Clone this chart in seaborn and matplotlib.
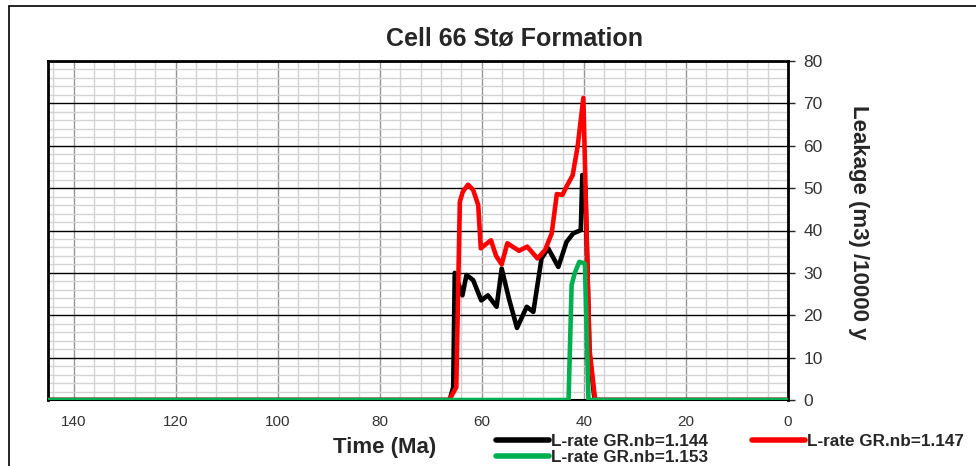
import matplotlib
matplotlib.use("Agg")
import matplotlib.pyplot as plt
from matplotlib.lines import Line2D
from matplotlib.ticker import MultipleLocator
import numpy as np
import pandas as pd
import seaborn as sns

# Leakage rate histories (time in Ma, leakage in m3 per 10000 y)
time_144 = [145, 66.3, 65.6, 65.3, 63.8, 63.0, 61.7, 60.1, 58.8, 57.1, 56.1,
            54.7, 53.1, 51.2, 49.9, 48.3, 47.0, 45.0, 43.4, 42.1, 40.6, 40.3,
            39.7, 38.9, 37.9, 0]
rate_144 = [0, 0, 3, 30, 24.7, 29.5, 28.3, 23.5, 24.7, 22, 31,
            24, 17, 22, 20.8, 33.4, 35.8, 31.4, 37.3, 39.3, 40.1, 53.1,
            50, 11, 0, 0]

time_147 = [145, 66.4, 65.0, 64.3, 63.7, 62.7, 61.7, 60.7, 60.2, 58.2, 57.2,
            56.1, 55.0, 52.7, 51.1, 49.1, 47.6, 46.3, 45.3, 44.2, 43.3, 42.2,
            41.2, 40.1, 38.9, 37.8, 0]
rate_147 = [0, 0, 3, 46.8, 49.2, 50.8, 49.6, 46, 35.8, 37.7, 34,
            32, 37, 35.2, 36.2, 33.4, 35.4, 39.3, 48.6, 48.4, 50.6, 53,
            60, 71.3, 12, 0, 0]

time_153 = [145, 43.0, 42.4, 41.8, 40.9, 39.8, 39.1, 0]
rate_153 = [0, 0, 27.1, 29.9, 32.6, 32.2, 0, 0]

series_labels = ["L-rate GR.nb=1.144", "L-rate GR.nb=1.147", "L-rate GR.nb=1.153"]
series_colors = ["#000000", "#FF0000", "#00B050"]

title_text = "Cell 66 Stø Formation"
x_label = "Time (Ma)"
y_label = "Leakage (m3) /10000 y"

sns.set_style("white")
plt.rcParams["font.family"] = ["Liberation Sans", "DejaVu Sans"]

W, H = 976, 466
fig = plt.figure(figsize=(W / 100, H / 100), dpi=100)
ax = fig.add_axes([48 / W, 1 - 400 / H, (788 - 48) / W, (400 - 61) / H])

# grid: light minor lines, darker major lines
ax.set_xlim(145, 0)
ax.set_ylim(0, 80)
ax.xaxis.set_major_locator(MultipleLocator(20))
ax.xaxis.set_minor_locator(MultipleLocator(4))
ax.yaxis.set_major_locator(MultipleLocator(10))
ax.yaxis.set_minor_locator(MultipleLocator(2))
ax.grid(which="minor", axis="both", color="#D4D4D4", linewidth=1.0, zorder=0)
ax.grid(which="major", axis="x", color="#959595", linewidth=1.0, zorder=0)
ax.grid(which="major", axis="y", color="#000000", linewidth=1.0, zorder=0)
ax.set_axisbelow(True)

frames = [
    pd.DataFrame({"time": time_144, "rate": rate_144}),
    pd.DataFrame({"time": time_147, "rate": rate_147}),
    pd.DataFrame({"time": time_153, "rate": rate_153}),
]
handles = []
for i, (df, lab, col) in enumerate(zip(frames, series_labels, series_colors)):
    sns.lineplot(data=df, x="time", y="rate", ax=ax, color=col, linewidth=3.3,
                 sort=False, estimator=None, zorder=3 + i, legend=False)
    handles.append(Line2D([], [], color=col, linewidth=4.0, label=lab))

# axes frame and ticks (value axis on the right)
for side in ["top", "left", "right", "bottom"]:
    ax.spines[side].set_visible(True)
    ax.spines[side].set_color("black")
ax.spines["top"].set_linewidth(2)
ax.spines["left"].set_linewidth(2)
ax.spines["right"].set_linewidth(2)
ax.spines["bottom"].set_linewidth(1.5)
ax.yaxis.tick_right()
ax.tick_params(axis="y", which="major", direction="out", length=5, width=1,
               labelsize=12.5, labelcolor="#333333", pad=6)
ax.tick_params(axis="x", which="major", direction="out", length=5, width=1,
               labelsize=11, labelcolor="#333333", pad=6, color="#555555")
ax.tick_params(which="minor", length=0)
ax.set_xticks([140, 120, 100, 80, 60, 40, 20, 0])
ax.set_xlabel("")
ax.set_ylabel("")

fig.text(514 / W, 1 - 38 / H, title_text, ha="center", va="center",
         fontsize=18, fontweight="bold")
fig.text(385 / W, 1 - 447 / H, x_label, ha="center", va="center",
         fontsize=16, fontweight="bold")
fig.text(859 / W, 1 - 222 / H, y_label, ha="center", va="center",
         rotation=-90, fontsize=16, fontweight="bold")

leg = fig.legend(handles=[handles[0], handles[2], handles[1]], ncol=2,
                 loc="upper left", bbox_to_anchor=(496 / W, 1 - 434 / H),
                 frameon=False, borderpad=0, borderaxespad=0,
                 handlelength=3.1, handletextpad=0.1, columnspacing=2.6,
                 labelspacing=0.08, prop={"weight": "bold", "size": 12.3})

# outer chart-area border (left and top edges)
fig.add_artist(Line2D([9 / W, 9 / W], [0, 1 - 6 / H], transform=fig.transFigure,
                      color="black", linewidth=1.2))
fig.add_artist(Line2D([9 / W, 1], [1 - 6 / H, 1 - 6 / H], transform=fig.transFigure,
                      color="black", linewidth=1.2))

fig.savefig("out.png", dpi=100, facecolor="white")
